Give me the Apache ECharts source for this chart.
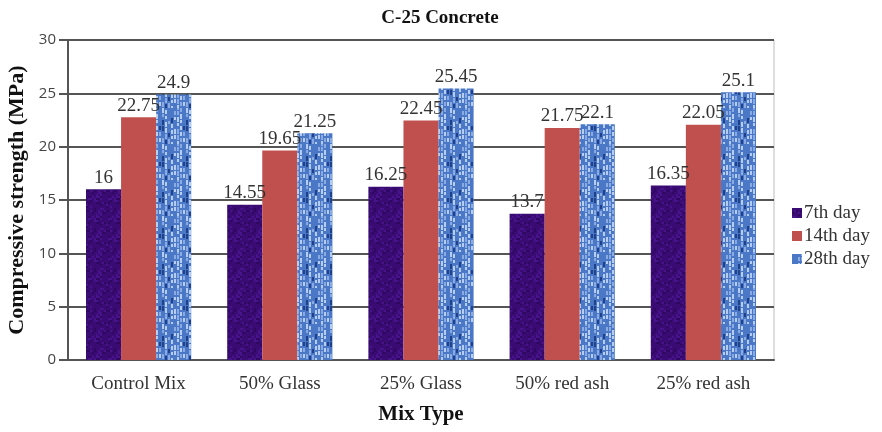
<!DOCTYPE html>
<html>
<head>
<meta charset="utf-8">
<script src="https://cdn.jsdelivr.net/npm/echarts@6/dist/echarts.min.js"></script>
<style>
  html, body { margin: 0; padding: 0; background: #fff; }
  #chart { width: 882px; height: 432px; }
</style>
</head>
<body>
<div id="chart"></div>
<script>
// Mix types and compressive strength (MPa) at each curing age
const categories = ['Control Mix', '50% Glass', '25% Glass', '50% red ash', '25% red ash'];
const day7 = [16, 14.55, 16.25, 13.7, 16.35];
const day14 = [22.75, 19.65, 22.45, 21.75, 22.05];
const day28 = [24.9, 21.25, 25.45, 22.1, 25.1];
const seriesNames = ['7th day', '14th day', '28th day'];
const yTicks = [0, 5, 10, 15, 20, 25, 30];

const SERIF = '"Liberation Serif", "DejaVu Serif", serif';

// Small deterministic hash used to speckle the texture tiles
function h(i, j, s) {
  let v = (i * 374761393 + j * 668265263 + s * 2147483647) | 0;
  v = (v ^ (v >>> 13)) * 1274126177 | 0;
  v = v ^ (v >>> 16);
  return ((v >>> 0) % 1000) / 1000;
}

// Dark purple, lightly mottled fill
function purpleTile() {
  const c = document.createElement('canvas');
  c.width = 20; c.height = 20;
  const g = c.getContext('2d');
  g.fillStyle = '#3b0b74';
  g.fillRect(0, 0, 20, 20);
  for (let i = 0; i < 20; i += 2) {
    for (let j = 0; j < 20; j += 2) {
      const r = h(i, j, 1);
      if (r < 0.25) { g.fillStyle = '#47138a'; g.fillRect(i, j, 2, 2); }
      else if (r > 0.82) { g.fillStyle = '#2f0862'; g.fillRect(i, j, 2, 2); }
    }
  }
  return c;
}

// Blue fill with light, streaky vertical dashes (columns staggered)
function blueTile() {
  const c = document.createElement('canvas');
  c.width = 24; c.height = 36;
  const g = c.getContext('2d');
  g.fillStyle = '#4a78c6';
  g.fillRect(0, 0, 24, 36);
  for (let i = 0; i < 24; i += 3) {
    const off = Math.floor(h(i, 0, 3) * 5);
    for (let j = -6; j < 36; j += 6) {
      const y = j + off;
      const r = h(i, j, 7);
      const len = 3 + Math.floor(h(i, j, 11) * 3);
      if (r < 0.42) { g.fillStyle = '#b6cdf2'; g.fillRect(i, y, 2, len); }
      else if (r < 0.64) { g.fillStyle = '#8aabe2'; g.fillRect(i, y, 2, len); }
      else if (r > 0.82) { g.fillStyle = '#21408a'; g.fillRect(i, y, 2, len + 1); }
    }
  }
  return c;
}

const fills = [
  { image: purpleTile(), repeat: 'repeat' },
  '#c0504d',
  { image: blueTile(), repeat: 'repeat' }
];
const values = [day7, day14, day28];

const chart = echarts.init(document.getElementById('chart'), null, { renderer: 'canvas' });

chart.setOption({
  animation: false,
  backgroundColor: '#ffffff',
  title: {
    text: 'C-25 Concrete',
    left: 435,
    textAlign: 'center',
    top: 4,
    textStyle: { fontFamily: SERIF, fontSize: 19, fontWeight: 'bold', color: '#111' }
  },
  legend: {
    orient: 'vertical',
    left: 792,
    top: 203,
    padding: 0,
    itemWidth: 10,
    itemHeight: 10,
    itemGap: 3,
    icon: 'rect',
    textStyle: { fontFamily: SERIF, fontSize: 19, lineHeight: 20, color: '#333', padding: [0, 0, 0, -3] },
    data: seriesNames
  },
  grid: {
    left: 68, right: 108, top: 40, bottom: 72,
    outerBoundsMode: 'none',
    containLabel: false,
    show: true, borderColor: '#bdbdbd', borderWidth: 1
  },
  xAxis: {
    type: 'category',
    data: categories,
    name: 'Mix Type',
    nameLocation: 'middle',
    nameGap: 44,
    nameTextStyle: { fontFamily: SERIF, fontSize: 21, fontWeight: 'bold', color: '#111' },
    axisLine: { lineStyle: { color: '#555', width: 2 } },
    axisTick: { show: false },
    axisLabel: { fontFamily: SERIF, fontSize: 19, color: '#333', margin: 15 }
  },
  yAxis: {
    type: 'value',
    min: 0, max: 30, interval: 5,
    name: 'Compressive strength (MPa)',
    nameLocation: 'middle',
    nameGap: 40,
    nameTextStyle: { fontFamily: SERIF, fontSize: 22, fontWeight: 'bold', color: '#111' },
    axisLine: { show: true, lineStyle: { color: '#555', width: 2 } },
    axisTick: { show: true, length: 9, lineStyle: { color: '#555', width: 2 } },
    axisLabel: {
      fontFamily: '"Open Sans", sans-serif', fontSize: 15, color: '#444', margin: 12,
      formatter: v => yTicks.includes(v) ? String(v) : ''
    },
    splitLine: { lineStyle: { color: '#555', width: 2 } }
  },
  series: seriesNames.map((name, k) => ({
    name,
    type: 'bar',
    data: values[k],
    barGap: '0%',
    barCategoryGap: '25.5%',
    itemStyle: { color: fills[k] },
    label: {
      show: true,
      position: 'top',
      distance: 2,
      fontFamily: SERIF,
      fontSize: 19,
      color: '#333',
      formatter: p => String(p.value)
    }
  }))
});
</script>
</body>
</html>
